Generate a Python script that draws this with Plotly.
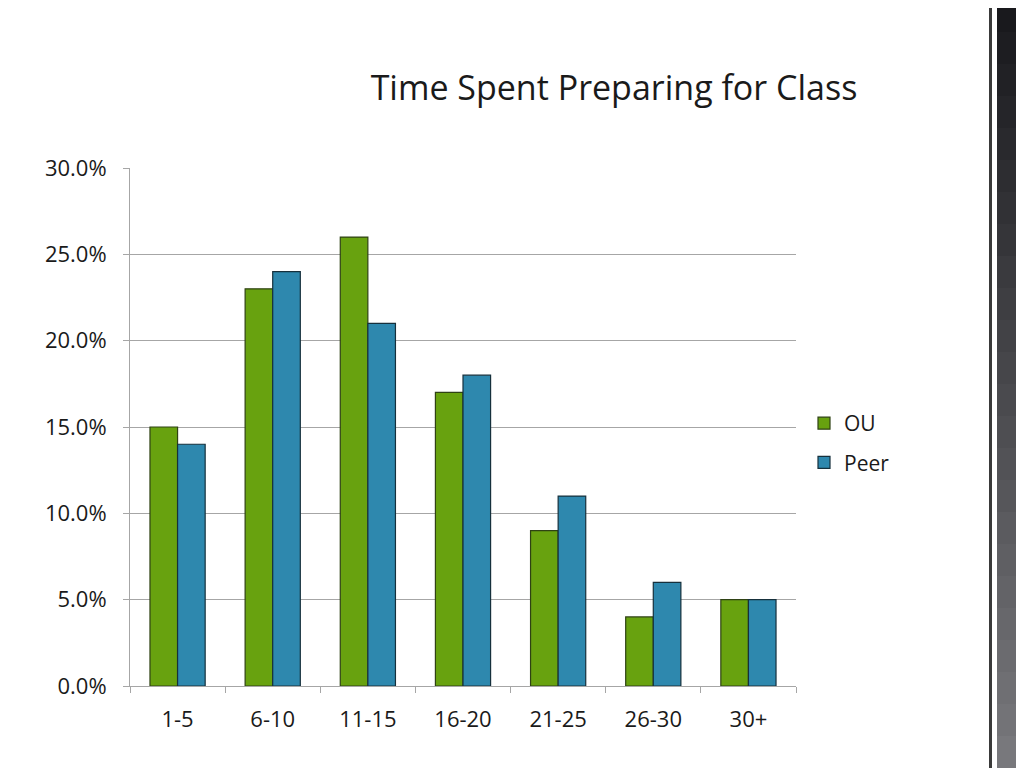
import plotly.graph_objects as go

categories = ["1-5", "6-10", "11-15", "16-20", "21-25", "26-30", "30+"]
ou_values = [0.15, 0.23, 0.26, 0.17, 0.09, 0.04, 0.05]
peer_values = [0.14, 0.24, 0.21, 0.18, 0.11, 0.06, 0.05]

OFF = 8  # page body margin
W, H = 1024 - OFF, 768 - OFF
# plot area in screen pixels: x 130..796, y 168..686
L, R, T = 130 - OFF, 1024 - 796, 168 - OFF
B = H - (686 - OFF)
PW, PH = W - L - R, H - T - B

def px(x):
    return (x - OFF - L) / PW

def py(y):
    return (H - B - (y - OFF)) / PH

FONT = "Open Sans"

fig = go.Figure()
fig.add_trace(go.Bar(
    name="OU", x=categories, y=ou_values,
    marker=dict(color="#68a20f", line=dict(color="#2f4214", width=1.2)),
    legendgroup="a",
))
fig.add_trace(go.Bar(
    name="Peer", x=categories, y=peer_values,
    marker=dict(color="#2e88ae", line=dict(color="#16303c", width=1.2)),
    legendgroup="b",
))

shapes = []
# decorative strip on the right
shapes.append(dict(type="rect", xref="paper", yref="paper",
                   x0=px(989), x1=px(992), y0=py(768), y1=py(0),
                   fillcolor="#3a3a3a", line=dict(width=0), layer="above"))
n = 24
for i in range(n):
    t = i / (n - 1)
    c = int(25 + t * 95)
    shapes.append(dict(type="rect", xref="paper", yref="paper",
                       x0=px(997), x1=px(1024),
                       y0=py(768 * (i + 1) / n), y1=py(768 * i / n),
                       fillcolor=f"rgb({c},{c},{c+4})", line=dict(width=0),
                       layer="above"))

fig.update_layout(
    width=W, height=H,
    margin=dict(l=L, r=R, t=T, b=B, autoexpand=False),
    paper_bgcolor="white", plot_bgcolor="white",
    barmode="group", bargap=0.42, bargroupgap=0,
    title=dict(text="Time Spent Preparing for Class",
               font=dict(family=FONT, size=34, color="#1a1a1a"),
               x=px(614), xanchor="center", xref="paper",
               y=1 - (88 - OFF) / H, yanchor="middle"),
    font=dict(family=FONT, color="#1a1a1a"),
    legend=dict(x=px(804), y=py(443), xanchor="left", yanchor="middle",
                font=dict(family=FONT, size=21, color="#1a1a1a"),
                tracegroupgap=9, itemwidth=30, bgcolor="rgba(0,0,0,0)"),
    shapes=shapes,
    showlegend=True,
)
fig.update_yaxes(range=[0, 0.30], dtick=0.05, tickformat=".1%",
                 showgrid=True, gridcolor="#a6a6a6", gridwidth=1,
                 showline=True, linecolor="#a6a6a6", linewidth=1,
                 ticks="outside", ticklen=6, tickcolor="#a6a6a6",
                 tickfont=dict(family=FONT, size=22, color="#1a1a1a"),
                 zeroline=False, ticklabelstandoff=12)
fig.update_xaxes(showline=True, linecolor="#a6a6a6", linewidth=1,
                 ticks="outside", ticklen=6, tickcolor="#a6a6a6",
                 tickson="boundaries",
                 tickfont=dict(family=FONT, size=22, color="#1a1a1a"),
                 ticklabelstandoff=14)

fig.write_html("out.html")
